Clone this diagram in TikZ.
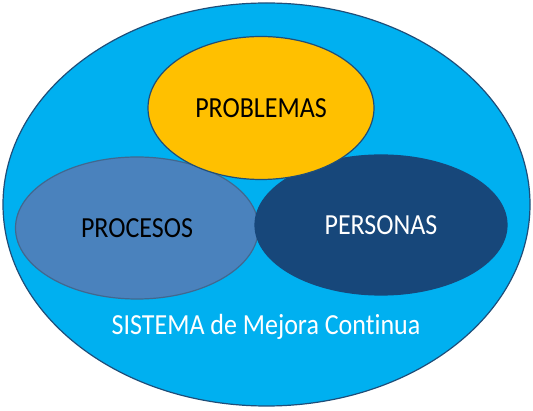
\documentclass[tikz,border=0pt]{standalone}
\usepackage{fontspec}
\setmainfont{Carlito}[Ligatures=NoCommon]
\usepackage{tikz}
\usetikzlibrary{shapes.geometric}

\definecolor{sistemaazul}{HTML}{00B0F0}
\definecolor{bordeazul}{HTML}{1F4E79}
\definecolor{problemasoro}{HTML}{FFC000}
\definecolor{procesosazul}{HTML}{4A82BD}
\definecolor{procesosborde}{HTML}{41688F}
\definecolor{personasazul}{HTML}{17477A}

\newcommand{\alto}[1]{\scalebox{1}[1.12]{#1}}

\tikzset{
  circulo/.style={ellipse, inner sep=0pt, line width=1.2pt,
    font=\fontsize{26}{30}\selectfont},
}

\begin{document}
\begin{tikzpicture}[x=1pt,y=-1pt]
  \fill[white] (0,0) rectangle (533,411);
  \useasboundingbox (0,0) rectangle (533,411);
  % sistema
  \node[circulo, draw=bordeazul, fill=sistemaazul,
        minimum width=527pt, minimum height=403pt] (sistema) at (266.5,204.5) {};
  \node[font=\fontsize{26}{30}\selectfont, text=white, anchor=base, inner sep=0pt] (sistematexto)
        at (266,335) {\alto{SISTEMA de Mejora Continua}};
  % los tres circulos
  \node[circulo, draw=procesosborde, fill=procesosazul,
        minimum width=243pt, minimum height=142pt] (procesos) at (137,228) {\alto{PROCESOS}};
  \node[circulo, draw=personasazul, fill=personasazul, text=white,
        minimum width=252pt, minimum height=140pt] (personas) at (381,225) {\alto{PERSONAS}};
  \node[circulo, draw=bordeazul, fill=problemasoro,
        minimum width=226pt, minimum height=143pt] (problemas) at (261,108) {\alto{PROBLEMAS}};
\end{tikzpicture}
\end{document}
